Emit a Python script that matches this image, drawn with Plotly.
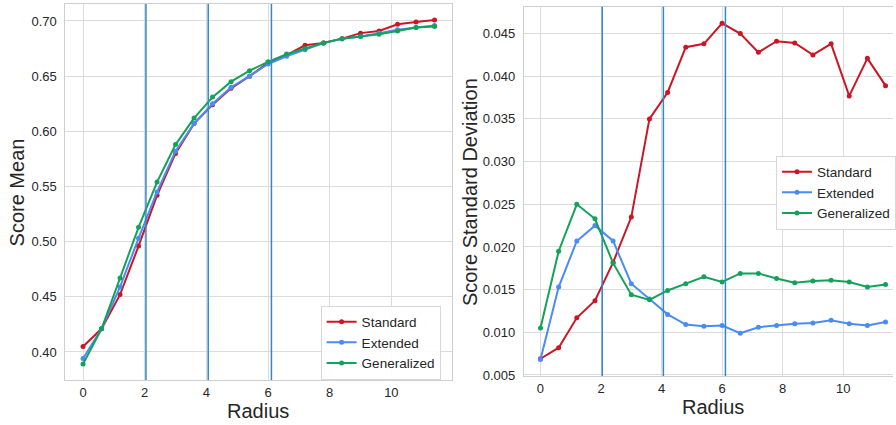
import plotly.graph_objects as go

radius = [0.0, 0.6, 1.2, 1.8, 2.4, 3.0, 3.6, 4.2, 4.8, 5.4, 6.0, 6.6, 7.2, 7.8, 8.4, 9.0, 9.6, 10.2, 10.8, 11.4]

mean_standard = [0.405, 0.421, 0.452, 0.496, 0.542, 0.580, 0.607, 0.624, 0.639, 0.650, 0.662, 0.669, 0.678, 0.680, 0.684, 0.689, 0.691, 0.697, 0.699, 0.701]
mean_extended = [0.394, 0.421, 0.459, 0.503, 0.545, 0.582, 0.607, 0.625, 0.640, 0.650, 0.661, 0.668, 0.674, 0.680, 0.684, 0.686, 0.689, 0.692, 0.694, 0.696]
mean_generalized = [0.389, 0.421, 0.467, 0.513, 0.554, 0.588, 0.612, 0.631, 0.645, 0.655, 0.663, 0.670, 0.675, 0.680, 0.684, 0.686, 0.688, 0.691, 0.694, 0.695]

std_standard = [0.0069, 0.0082, 0.0117, 0.0137, 0.0182, 0.0235, 0.0350, 0.0381, 0.0434, 0.0438, 0.0462, 0.0450, 0.0428, 0.0441, 0.0439, 0.0425, 0.0438, 0.0377, 0.0421, 0.0389]
std_extended = [0.0068, 0.0153, 0.0207, 0.0225, 0.0207, 0.0157, 0.0139, 0.0121, 0.0109, 0.0107, 0.0108, 0.0099, 0.0106, 0.0108, 0.0110, 0.0111, 0.0114, 0.0110, 0.0108, 0.0112]
std_generalized = [0.0105, 0.0195, 0.0250, 0.0233, 0.0181, 0.0144, 0.0138, 0.0149, 0.0157, 0.0165, 0.0159, 0.0169, 0.0169, 0.0163, 0.0158, 0.0160, 0.0161, 0.0159, 0.0153, 0.0156]

vlines = [2.04, 4.06, 6.11]

series_names = ["Standard", "Extended", "Generalized"]
series_colors = ["#cc1626", "#4a8cf5", "#13a25a"]

x_ticks = [0, 2, 4, 6, 8, 10]
mean_ticks = [0.40, 0.45, 0.50, 0.55, 0.60, 0.65, 0.70]
std_ticks = [0.005, 0.010, 0.015, 0.020, 0.025, 0.030, 0.035, 0.040, 0.045]

x_title = "Radius"
y1_title = "Score Mean"
y2_title = "Score Standard Deviation"

FONT = "Liberation Sans, Arial, sans-serif"
TXT = "#262626"
GRID = "#dcdcdc"
W, H = 896, 425

fig = go.Figure()

for name, color, ys in zip(series_names, series_colors, [mean_standard, mean_extended, mean_generalized]):
    fig.add_trace(go.Scatter(x=radius, y=ys, name=name, mode="lines+markers",
                             line=dict(color=color, width=2), marker=dict(color=color, size=5),
                             xaxis="x", yaxis="y", legend="legend"))
for name, color, ys in zip(series_names, series_colors, [std_standard, std_extended, std_generalized]):
    fig.add_trace(go.Scatter(x=radius, y=ys, name=name, mode="lines+markers",
                             line=dict(color=color, width=2), marker=dict(color=color, size=5),
                             xaxis="x2", yaxis="y2", legend="legend2"))

shapes = []
for xr, yr in [("x", "y domain"), ("x2", "y2 domain")]:
    for v in vlines:
        shapes.append(dict(type="line", xref=xr, yref=yr, x0=v, x1=v, y0=0, y1=1,
                           line=dict(color="#3389c6", width=1.5), layer="above"))

title_font = dict(family=FONT, size=20, color=TXT)
annotations = [
    dict(text=x_title, xref="paper", yref="paper", x=259.3 / W, y=1 - 410.7 / H,
         xanchor="center", yanchor="middle", showarrow=False, font=title_font),
    dict(text=x_title, xref="paper", yref="paper", x=715 / W, y=1 - 406.7 / H,
         xanchor="center", yanchor="middle", showarrow=False, font=title_font),
    dict(text=y1_title, xref="paper", yref="paper", x=18 / W, y=1 - 192.5 / H,
         xanchor="center", yanchor="middle", showarrow=False, textangle=-90, font=title_font),
    dict(text=y2_title, xref="paper", yref="paper", x=471.7 / W, y=1 - 192 / H,
         xanchor="center", yanchor="middle", showarrow=False, textangle=-90, font=title_font),
]

axis_common = dict(showgrid=True, gridcolor=GRID, gridwidth=1, zeroline=False,
                   showline=True, linecolor="#cfcfcf", linewidth=1.2, ticks="",
                   tickfont=dict(family=FONT, size=13, color=TXT), automargin=False)

legend_common = dict(font=dict(family=FONT, size=13.5, color=TXT), bgcolor="rgba(255,255,255,0.9)",
                     bordercolor="#d8d8d8", borderwidth=1, xanchor="left", yanchor="top",
                     tracegroupgap=0, itemwidth=30)

fig.update_layout(
    width=W, height=H,
    margin=dict(l=0, r=0, t=0, b=0),
    paper_bgcolor="white", plot_bgcolor="white",
    showlegend=True,
    xaxis=dict(domain=[0.0733, 0.5056], range=[-0.57, 11.95], tickvals=x_ticks,
               mirror=True, anchor="y", ticklabelstandoff=0, **axis_common),
    yaxis=dict(domain=[1 - 380 / H, 1 - 4 / H], range=[0.3746, 0.7154], tickvals=mean_ticks,
               tickformat=".2f", mirror=True, anchor="x", ticklabelstandoff=5, **axis_common),
    xaxis2=dict(domain=[0.5867, 1.0], range=[-0.547, 11.646], tickvals=x_ticks,
                mirror=True, anchor="y2", ticklabelstandoff=0, **axis_common),
    yaxis2=dict(domain=[1 - 376 / H, 1 - 6.7 / H], range=[0.00488, 0.04815], tickvals=std_ticks,
                tickformat=".3f", mirror=False, anchor="x2", ticklabelstandoff=5, **axis_common),
    legend=dict(x=321.7 / W, y=1 - 305.5 / H, **legend_common),
    legend2=dict(x=779 / W, y=1 - 155.5 / H, **legend_common),
    shapes=shapes,
    annotations=annotations,
)

fig.write_html("out.html", config={"displayModeBar": False},
               post_script="document.body.style.margin='0';document.body.style.overflow='hidden';")
